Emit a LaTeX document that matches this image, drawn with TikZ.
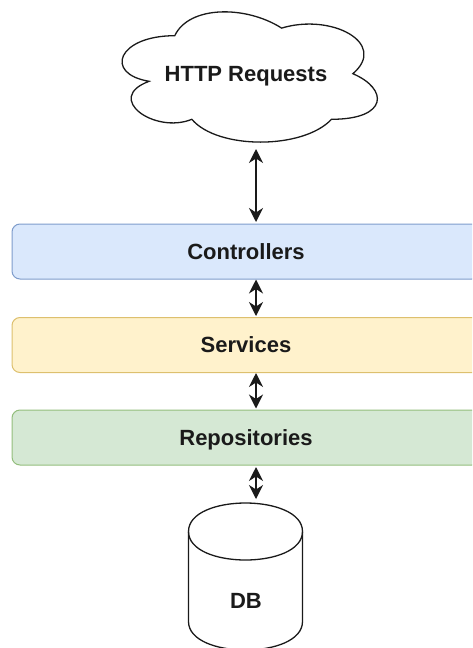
\documentclass[tikz,border=0pt]{standalone}
\usepackage{fontspec}
\setmainfont{Liberation Sans}
\usetikzlibrary{arrows.meta}

\definecolor{ctrlfill}{HTML}{DAE8FC}
\definecolor{ctrldraw}{HTML}{7E9CCB}
\definecolor{svcfill}{HTML}{FFF2CC}
\definecolor{svcdraw}{HTML}{DDC06E}
\definecolor{repofill}{HTML}{D5E8D4}
\definecolor{repodraw}{HTML}{93BE7C}
\definecolor{ink}{HTML}{1A1A1A}

\begin{document}
\begin{tikzpicture}[x=1pt,y=-1pt,
  labeltext/.style={font=\fontsize{22}{26}\selectfont\bfseries, text=ink,
    text height=15.8pt, text depth=0pt, inner sep=0pt},
  layer/.style={labeltext, rectangle, rounded corners=8pt, line width=1pt,
    minimum width=468pt, minimum height=55pt},
  link/.style={line width=1.4pt, draw=ink,
    {Stealth[length=14pt,width=14pt,inset=4.5pt]}-{Stealth[length=14pt,width=14pt,inset=4.5pt]}},
  outline/.style={line width=1.3pt, draw=ink, fill=white}]

\useasboundingbox (0,0) rectangle (472,648);
\clip (0,0) rectangle (472,648);

% cloud
\begin{scope}[shift={(103.5,-2.3)}, x=285pt, y=-152pt]
  \draw[outline] (0.25,0.25)
    .. controls (0.05,0.25) and (0,0.5) .. (0.16,0.55)
    .. controls (0,0.66) and (0.18,0.9) .. (0.31,0.8)
    .. controls (0.4,1) and (0.7,1) .. (0.8,0.8)
    .. controls (1,0.8) and (1,0.6) .. (0.875,0.5)
    .. controls (1,0.3) and (0.8,0.1) .. (0.625,0.2)
    .. controls (0.5,0.05) and (0.3,0.05) .. (0.25,0.25) -- cycle;
\end{scope}
\node[labeltext] (http) at (246,74) {HTTP Requests};
\coordinate (cloudbase) at (256,149);

% layers
\node[layer, fill=ctrlfill, draw=ctrldraw] (ctrl) at (246,251.5) {Controllers};
\node[layer, fill=svcfill, draw=svcdraw] (svc) at (246,345) {Services};
\node[layer, fill=repofill, draw=repodraw] (repo) at (246,437.5) {Repositories};

% database cylinder
\begin{scope}[shift={(188.5,503)}]
  \draw[outline] (0,28.5) .. controls (0,-9.5) and (114,-9.5) .. (114,28.5)
    -- (114,118.5) .. controls (114,156.5) and (0,156.5) .. (0,118.5) -- cycle;
  \draw[outline, fill=none] (0,28.5) .. controls (0,66.5) and (114,66.5) .. (114,28.5);
\end{scope}
\node[labeltext] (db) at (246,601) {DB};
\coordinate (dbtop) at (256,503);

% connectors
\draw[link, shorten >=1.5pt] (cloudbase) -- ([xshift=10pt]ctrl.north);
\draw[link, shorten >=1pt] ([xshift=10pt]ctrl.south) -- ([xshift=10pt]svc.north);
\draw[link, shorten >=1pt] ([xshift=10pt]svc.south) -- ([xshift=10pt]repo.north);
\draw[link, shorten <=1.5pt, shorten >=4pt] ([xshift=10pt]repo.south) -- (dbtop);
\end{tikzpicture}
\end{document}
